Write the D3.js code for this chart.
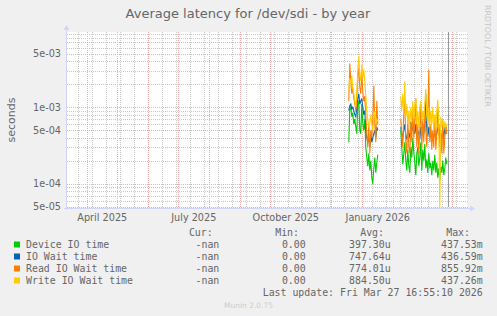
<!DOCTYPE html>
<html><head><meta charset="utf-8">
<script src="https://cdn.jsdelivr.net/npm/d3@7"></script>
<style>body{margin:0;background:#F0F0F0}svg{display:block}</style>
</head><body><svg id="c" width="497" height="316"></svg>
<script>
// ---- data (daily averages, milliseconds), first day 2025-12-18, null = no data
const firstDay = Date.UTC(2025, 11, 18, 12);
const deviceIO = [0.35,0.95,1.0,0.75,0.85,0.6,0.7,0.55,0.45,1.1,1.2,0.5,0.45,1.1,0.6,0.5,0.7,0.3,0.22,0.17,0.25,0.15,0.2,0.12,0.1,0.16,0.22,0.14,0.19,0.24,
  null,null,null,null,null,null,null,null,null,null,null,null,null,null,null,null,null,null,null,null,null,null,
  0.5,0.3,0.18,0.25,0.35,0.2,0.15,0.28,0.17,0.14,0.3,0.22,0.4,0.26,0.19,0.13,0.25,0.3,0.17,0.22,0.35,0.15,0.28,0.2,0.33,0.16,0.21,0.14,0.25,0.16,0.19,0.13,0.2,0.15,0.24,0.14,0.19,0.12,0.16,0.11,0.17,0.14,0.2,0.13,0.16,0.22,0.18];
const ioWait = [0.9,1.05,1.1,0.95,1.0,0.9,0.8,0.75,1.0,1.3,1.5,1.1,1.2,1.3,1.0,0.8,0.9,0.5,0.4,0.35,0.4,0.3,0.45,0.35,0.4,0.45,0.5,0.4,0.55,0.5,
  null,null,null,null,null,null,null,null,null,null,null,null,null,null,null,null,null,null,null,null,null,null,
  0.55,0.45,0.4,0.5,0.6,0.42,0.38,0.5,0.45,0.4,0.65,0.48,0.55,0.5,0.45,0.6,0.4,0.5,0.45,0.38,0.55,0.42,0.5,0.45,0.6,1.5,0.5,0.42,0.55,0.4,0.48,0.36,0.45,0.4,0.5,0.38,0.46,0.52,0.6,0.35,0.45,0.4,0.5,0.38,0.55,0.45,0.5];
const readWait = [1.2,3.7,2.2,1.5,1.8,1.3,1.1,0.9,1.3,2.5,3.3,1.8,1.5,2.8,1.6,1.2,1.4,0.8,0.45,0.3,0.6,0.25,0.5,0.4,0.7,1.9,0.6,0.35,1.2,0.6,
  null,null,null,null,null,null,null,null,null,null,null,null,null,null,null,null,null,null,null,null,null,null,
  0.7,0.45,0.3,0.9,1.2,0.35,0.25,0.7,0.3,0.25,0.6,0.35,1.0,0.4,0.7,1.3,0.3,0.6,0.25,0.5,1.1,0.28,0.7,0.35,0.9,0.5,0.3,0.7,3.1,0.35,0.6,0.28,0.5,0.3,0.8,0.28,0.45,1.0,0.45,0.3,0.5,0.25,0.7,0.25,0.4,0.6,0.45];
const writeWait = [1.6,2.4,2.0,2.6,1.7,1.5,1.2,1.0,1.6,3.0,4.7,2.6,2.2,3.6,2.4,3.1,2.2,1.4,0.9,0.7,0.55,0.6,0.8,0.6,0.5,0.7,0.9,0.6,0.7,0.65,
  null,null,null,null,null,null,null,null,null,null,null,null,null,null,null,null,null,null,null,null,null,null,
  1.37,0.9,1.5,0.8,2.16,0.75,1.1,0.6,0.9,0.55,1.0,0.65,1.2,0.7,1.1,1.32,0.6,0.9,0.55,1.0,1.2,0.65,0.9,0.7,1.1,1.73,0.75,0.6,1.0,0.55,0.9,0.6,1.0,0.5,0.8,0.55,0.9,1.25,0.6,0.05,0.75,0.55,0.7,0.5,0.65,0.55,0.6];

const seriesNames = ["Device IO time","IO Wait time","Read IO Wait time","Write IO Wait time"];
const seriesColors = ["#00CC00","#0066B3","#FF8000","#FFCC00"];
const curVals = ["-nan","-nan","-nan","-nan"];
const minVals = ["0.00","0.00","0.00","0.00"];
const avgVals = ["397.30u","747.64u","774.01u","884.50u"];
const maxVals = ["437.53m","436.59m","855.92m","437.26m"];
const yTickVals = [5e-5, 1e-4, 5e-4, 1e-3, 5e-3];
const yTickLabels = ["5e-05","1e-04","5e-04","1e-03","5e-03"];
const xLabelMonths = [[2025,3,"April 2025"],[2025,6,"July 2025"],[2025,9,"October 2025"],[2026,0,"January 2026"]];
const nowTime = Date.UTC(2026, 2, 27, 16, 55);

// ---- layout
const L = 67, R = 467, T = 32, B = 207;
const svg = d3.select("#c");
const x = d3.scaleUtc().domain([Date.UTC(2025,2,11,17), Date.UTC(2026,3,15,17)]).range([L, R]);
const y = d3.scaleLog().domain([5e-5, Math.pow(10, -2.0194)]).range([B, T]);
const DAY = 86400000;

svg.append("rect").attr("x",L).attr("y",T).attr("width",R-L).attr("height",B-T).attr("fill","#fff");

const gGrid = svg.append("g");
const minorCol = "#c8c8c8", majorCol = "#f5adad";
// horizontal grid
for (let e = -5; e <= -3; e++) {
  for (let m = 1; m <= 9; m++) {
    const v = m * Math.pow(10, e);
    if (v < 5e-5 || v > y.domain()[1]) continue;
    const major = (m === 1 || m === 5);
    gGrid.append("line").attr("x1",L).attr("x2",R+1).attr("y1",Math.round(y(v))+0.5).attr("y2",Math.round(y(v))+0.5)
      .attr("stroke", major ? majorCol : minorCol).attr("stroke-dasharray","1,1");
  }
}
// vertical minor grid: every 14 days
for (let t = Date.UTC(2025,2,23); t <= x.domain()[1].getTime(); t += 14*DAY) {
  const xx = Math.round(x(t)) + 0.5;
  gGrid.append("line").attr("x1",xx).attr("x2",xx).attr("y1",T).attr("y2",B+2).attr("stroke",minorCol).attr("stroke-dasharray","1,1");
}
// vertical major grid: month starts
d3.utcMonth.range(x.domain()[0], x.domain()[1]).forEach(d => {
  const xx = Math.round(x(d)) + 0.5;
  gGrid.append("line").attr("x1",xx).attr("x2",xx).attr("y1",T).attr("y2",B+2).attr("stroke",majorCol).attr("stroke-dasharray","1,1");
});

// series lines
svg.append("clipPath").attr("id","pc").append("rect").attr("x",L).attr("y",T).attr("width",R-L).attr("height",B-T+1);
const line = d3.line().defined(d => d.v != null).x(d => x(d.t)).y(d => y(d.v/1000));
[deviceIO, ioWait, readWait, writeWait].forEach((arr, k) => {
  const pts = arr.map((v, i) => ({t: firstDay + i*DAY, v}));
  svg.append("path").attr("d", line(pts)).attr("fill","none").attr("stroke",seriesColors[k])
    .attr("stroke-width",1.1).attr("clip-path","url(#pc)");
});

// now line
svg.append("line").attr("x1",Math.round(x(nowTime))+0.5).attr("x2",Math.round(x(nowTime))+0.5).attr("y1",T).attr("y2",B)
  .attr("stroke","#999").attr("stroke-width",1);

// axes
const axisCol = "#CFD6F8";
svg.append("line").attr("x1",L-0.5).attr("x2",L-0.5).attr("y1",T-3).attr("y2",B+3).attr("stroke",axisCol);
svg.append("line").attr("x1",L-3).attr("x2",R+4).attr("y1",B+1.5).attr("y2",B+1.5).attr("stroke",axisCol);
svg.append("path").attr("d",`M${L-3.5},${T-2} L${L+2.5},${T-2} L${L-0.5},${T-7} Z`).attr("fill",axisCol);
svg.append("path").attr("d",`M${R+3},${B-1.5} L${R+3},${B+4.5} L${R+8},${B+1.5} Z`).attr("fill",axisCol);

// y labels
const txt = "#666666";
yTickVals.forEach((v, i) => {
  svg.append("text").attr("x",61).attr("y",y(v)).attr("dy","0.35em").attr("text-anchor","end")
    .attr("font-family","DejaVu Sans").attr("font-size",9.7).attr("fill",txt).text(yTickLabels[i]);
});
// x labels centered in month
xLabelMonths.forEach(([yr, mo, lab]) => {
  const a = x(Date.UTC(yr, mo, 1)), b = x(Date.UTC(yr, mo+1, 1));
  svg.append("text").attr("x",(a+b)/2).attr("y",221).attr("text-anchor","middle")
    .attr("font-family","DejaVu Sans").attr("font-size",9.7).attr("fill",txt).text(lab);
});

// title
svg.append("text").attr("x",248).attr("y",17.5).attr("text-anchor","middle").attr("font-family","DejaVu Sans")
  .attr("font-size",13).attr("fill",txt).text("Average latency for /dev/sdi - by year");
// y axis label
svg.append("text").attr("transform","translate(14.5,120) rotate(-90)").attr("text-anchor","middle")
  .attr("font-family","DejaVu Sans").attr("font-size",11).attr("fill",txt).text("seconds");
// side text
svg.append("text").attr("transform","translate(485,5) rotate(90)").attr("text-anchor","start")
  .attr("font-family","DejaVu Sans").attr("font-size",7.9).attr("fill","#c4c4c4").text("RRDTOOL / TOBI OETIKER");

// legend
const mono = "DejaVu Sans Mono", fs = 9.9;
const hdr = [["Cur:",212.7],["Min:",299],["Avg:",384],["Max:",470]];
hdr.forEach(([t, xr]) => svg.append("text").attr("x",xr).attr("y",236).attr("text-anchor","end")
  .attr("font-family",mono).attr("font-size",fs).attr("fill",txt).text(t));
seriesNames.forEach((n, i) => {
  const by = 248 + i*12;
  svg.append("rect").attr("x",14).attr("y",by-6.5).attr("width",6).attr("height",6).attr("fill",seriesColors[i]);
  svg.append("text").attr("x",26).attr("y",by).attr("font-family",mono).attr("font-size",fs).attr("fill",txt).text(n);
  [[curVals,219.3],[minVals,305.7],[avgVals,390.7],[maxVals,482.7]].forEach(([arr, xr]) =>
    svg.append("text").attr("x",xr).attr("y",by).attr("text-anchor","end").attr("font-family",mono)
      .attr("font-size",fs).attr("fill",txt).text(arr[i]));
});
svg.append("text").attr("x",482.7).attr("y",296).attr("text-anchor","end").attr("font-family",mono)
  .attr("font-size",fs).attr("fill",txt).text("Last update: Fri Mar 27 16:55:10 2026");
svg.append("text").attr("x",248.5).attr("y",308).attr("text-anchor","middle").attr("font-family","DejaVu Sans")
  .attr("font-size",7.5).attr("fill","#cccccc").text("Munin 2.0.75");
</script></body></html>
